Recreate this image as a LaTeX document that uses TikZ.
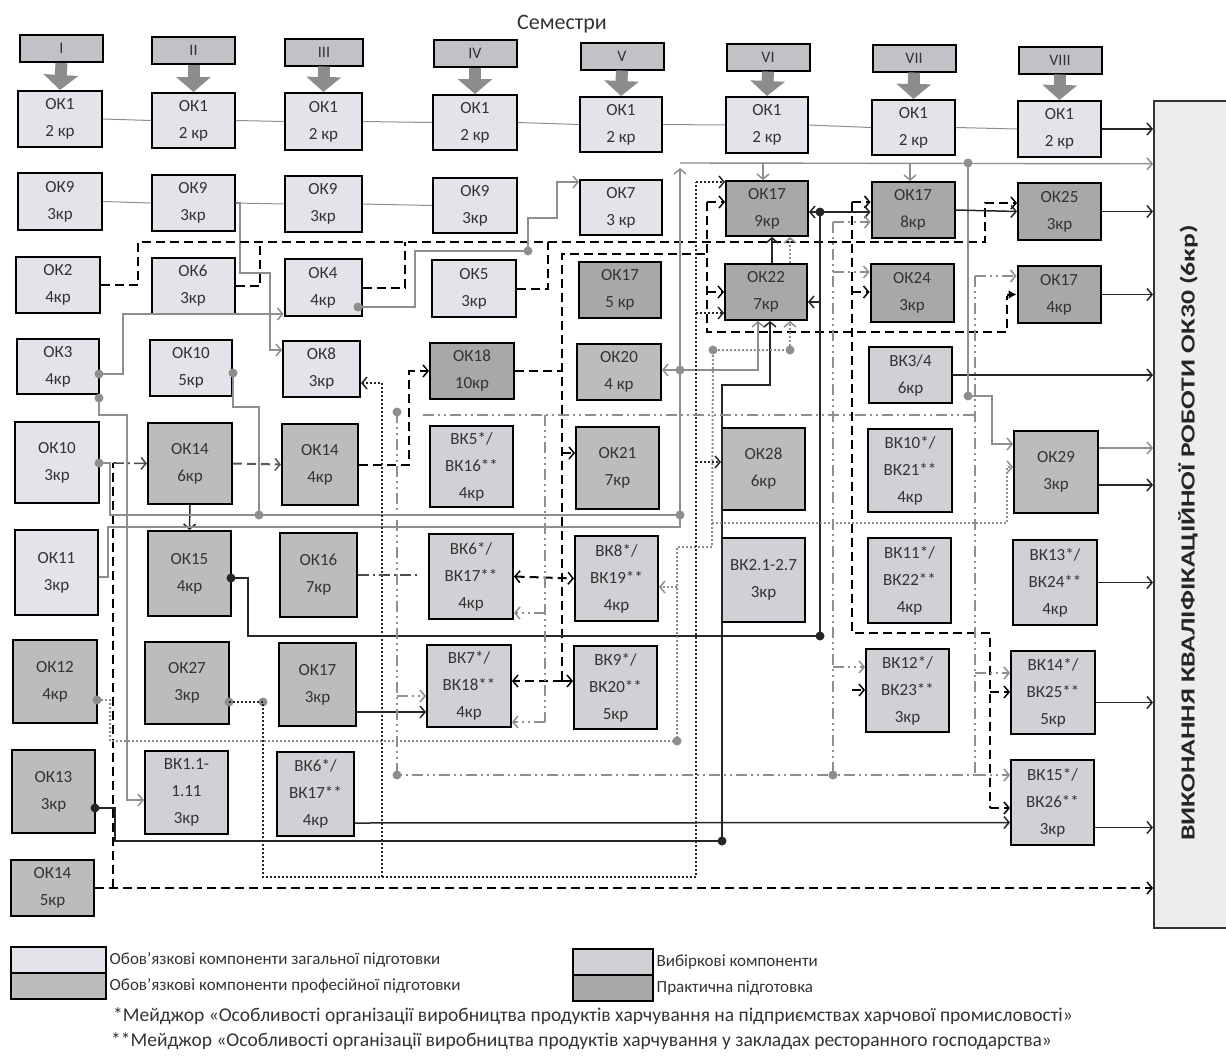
\documentclass[tikz,border=0pt]{standalone}
\usepackage{fontspec}
\setmainfont{Carlito}
\usetikzlibrary{arrows.meta,calc}
\definecolor{genc}{HTML}{E3E3EA}
\definecolor{profc}{HTML}{BCBCBC}
\definecolor{elecc}{HTML}{D0D0D5}
\definecolor{pracc}{HTML}{A8A8A8}
\definecolor{hdrc}{HTML}{C2C2C6}
\definecolor{arrc}{HTML}{8C8C8C}
\definecolor{lgc}{HTML}{8E8E8E}
\definecolor{finc}{HTML}{EDEDEF}
\definecolor{txtc}{HTML}{333333}
\begin{document}
\begin{tikzpicture}[x=1pt,y=-1pt,
  box/.style={draw=black, line width=2pt, align=center, inner sep=0pt, text=txtc, font=\fontsize{17}{27}\selectfont},
  gen/.style={box, fill=genc},
  prof/.style={box, fill=profc},
  elec/.style={box, fill=elecc},
  prac/.style={box, fill=pracc},
  hdr/.style={box, fill=hdrc, minimum width=83pt, minimum height=27pt, font=\fontsize{16}{18}\selectfont},
  wh/.style args={#1x#2}{minimum width=#1pt, minimum height=#2pt},
  gl/.style={draw=lgc, line width=1.4pt},
  bl/.style={draw=black!85, line width=1.5pt},
  dsh/.style={draw=black, line width=2pt, dash pattern=on 9pt off 5pt},
  dtb/.style={draw=black!85, line width=2pt, dash pattern=on 1.8pt off 2.2pt},
  dtg/.style={draw=lgc, line width=2pt, dash pattern=on 1.8pt off 2.2pt},
  ddg/.style={draw=lgc, line width=1.6pt, dash pattern=on 11pt off 4pt on 2pt off 4pt on 2pt off 4pt},
  ddb/.style={draw=black!70, line width=1.6pt, dash pattern=on 11pt off 4pt on 2pt off 4pt},
  ar/.style={-{Straight Barb[length=5pt,width=12pt,line width=1.5pt]}},
  gdot/.style={circle, fill=lgc, inner sep=0pt, minimum size=9pt},
  bdot/.style={circle, fill=black!85, inner sep=0pt, minimum size=9pt},
  legt/.style={anchor=west, inner sep=0pt, text=txtc, font=\fontsize{17}{19}\selectfont},
  foot/.style={anchor=west, inner sep=0pt, text=txtc, font=\fontsize{19.5}{21}\selectfont}
]
\useasboundingbox (0,0) rectangle (1226,1055);

% final box
\node[draw=black!80, line width=1.5pt, fill=finc, minimum width=85pt, minimum height=827pt, anchor=north west, inner sep=0pt] (fin) at (1153,100) {};
\node[rotate=90, text=black!85] (fint) at (1188,533) {\scalebox{1.38}[1]{\bfseries\fontsize{20}{20}\selectfont ВИКОНАННЯ КВАЛІФІКАЦІЙНОЇ РОБОТИ ОК30 (6кр)}};

\node[font=\fontsize{22}{24}\selectfont, text=txtc] (sem) at (562,24) {Семестри};

% headers
\node[hdr] (s1) at (61.5,48.5) {I};
\node[hdr] (s2) at (193.5,50.5) {II};
\node[hdr, minimum width=78pt] (s3) at (324,52) {III};
\node[hdr] (s4) at (475,53.5) {IV};
\node[hdr] (s5) at (622,56) {V};
\node[hdr] (s6) at (768,57) {VI};
\node[hdr] (s7) at (914,58) {VII};
\node[hdr] (s8) at (1060,60) {VIII};

% row 1
\node[gen, wh=84x56] (a1) at (60,119) {ОК1\\2 кр};
\node[gen, wh=83x55] (a2) at (193.5,120.5) {ОК1\\2 кр};
\node[gen, wh=77x57] (a3) at (323.5,121.5) {ОК1\\2 кр};
\node[gen, wh=84x55] (a4) at (475,122.5) {ОК1\\2 кр};
\node[gen, wh=82x55] (a5) at (621,124.5) {ОК1\\2 кр};
\node[gen, wh=82x56] (a6) at (767,125) {ОК1\\2 кр};
\node[gen, wh=83x55] (a7) at (913.5,127.5) {ОК1\\2 кр};
\node[gen, wh=83x56] (a8) at (1059.5,129) {ОК1\\2 кр};
% row 2
\node[gen, wh=84x57] (b1) at (60,201.5) {ОК9\\3кр};
\node[gen, wh=83x56] (b2) at (193,203) {ОК9\\3кр};
\node[gen, wh=77x56] (b3) at (323,204) {ОК9\\3кр};
\node[gen, wh=84x55] (b4) at (475,205.5) {ОК9\\3кр};
\node[gen, wh=82x55] (b5) at (621,207.5) {ОК7\\3 кр};
\node[prac, wh=82x55] (b6) at (767,208.5) {ОК17\\9кр};
\node[prac, wh=83x56] (b7) at (913,210) {ОК17\\8кр};
\node[prac, wh=83x57] (b8) at (1059.5,211.5) {ОК25\\3кр};
% row 3
\node[gen, wh=84x56] (c1) at (58,285) {ОК2\\4кр};
\node[gen, wh=83x56] (c2) at (193,286) {ОК6\\3кр};
\node[gen, wh=77x57] (c3) at (323,287.5) {ОК4\\4кр};
\node[gen, wh=84x57] (c4) at (474,288.5) {ОК5\\3кр};
\node[prac, wh=82x56] (c5) at (620,290) {ОК17\\5 кр};
\node[prac, wh=82x56] (c6) at (766,292) {ОК22\\7кр};
\node[prac, wh=83x58] (c7) at (912,293) {ОК24\\3кр};
\node[prac, wh=83x57] (c8) at (1059,294.5) {ОК17\\4кр};
% row 4
\node[gen, wh=82x55] (d1) at (58,366.5) {ОК3\\4кр};
\node[gen, wh=82x56] (d2) at (191,368) {ОК10\\5кр};
\node[gen, wh=77x56] (d3) at (321.5,369) {ОК8\\3кр};
\node[prac, wh=84x56] (d4) at (472,371) {ОК18\\10кр};
\node[prof, wh=84x56] (d5) at (619,372) {ОК20\\4 кр};
\node[elec, wh=83x56] (d7) at (910.5,375) {ВК3/4\\6кр};
% row 5
\node[gen, wh=84x81] (e1) at (57,462.5) {ОК10\\3кр};
\node[prof, wh=84x81] (e2) at (190,463.5) {ОК14\\6кр};
\node[prof, wh=76x81] (e3) at (320,464.5) {ОК14\\4кр};
\node[elec, wh=83x81] (e4) at (471.5,466.5) {ВК5*/\\ВК16**\\4кр};
\node[prof, wh=83x82] (e5) at (617.5,468) {ОК21\\7кр};
\node[prof, wh=83x82] (e6) at (763.5,469) {ОК28\\6кр};
\node[elec, wh=84x83] (e7) at (910,470.5) {ВК10*/\\ВК21**\\4кр};
\node[prof, wh=84x82] (e8) at (1056,472) {ОК29\\3кр};
% row 6
\node[gen, wh=83x85] (f1) at (56.5,572.5) {ОК11\\3кр};
\node[prof, wh=83x85] (f2) at (189.5,573.5) {ОК15\\4кр};
\node[prof, wh=77x84] (f3) at (318.5,575) {ОК16\\7кр};
\node[elec, wh=84x85] (f4) at (471,576.5) {ВК6*/\\ВК17**\\4кр};
\node[elec, wh=83x85] (f5) at (616.5,578.5) {ВК8*/\\ВК19**\\4кр};
\node[elec, wh=83x84] (f6) at (763.5,580) {ВК2.1-2.7\\3кр};
\node[elec, wh=83x85] (f7) at (909.5,580.5) {ВК11*/\\ВК22**\\4кр};
\node[elec, wh=84x85] (f8) at (1055,582.5) {ВК13*/\\ВК24**\\4кр};
% row 7
\node[prof, wh=84x83] (g1) at (55,681.5) {ОК12\\4кр};
\node[prof, wh=84x82] (g2) at (187,683) {ОК27\\3кр};
\node[prof, wh=77x83] (g3) at (317.5,684.5) {ОК17\\3кр};
\node[elec, wh=84x82] (g4) at (469,686) {ВК7*/\\ВК18**\\4кр};
\node[elec, wh=83x83] (g5) at (615.5,687.5) {ВК9*/\\ВК20**\\5кр};
\node[elec, wh=83x83] (g7) at (907.5,690.5) {ВК12*/\\ВК23**\\3кр};
\node[elec, wh=84x83] (g8) at (1053,692.5) {ВК14*/\\ВК25**\\5кр};
% row 8
\node[prof, wh=83x83] (i1) at (53.5,791.5) {ОК13\\3кр};
\node[elec, wh=83x83] (i2) at (186.5,792.5) {ВК1.1-\\1.11\\3кр};
\node[elec, wh=77x84] (i3) at (315.5,794) {ВК6*/\\ВК17**\\4кр};
\node[elec, wh=83x85] (i8) at (1052.5,802.5) {ВК15*/\\ВК26**\\3кр};
% row 9
\node[prof, wh=83x56] (j1) at (52.5,888) {ОК14\\5кр};

% semester arrows
\foreach \i in {1,...,8}
  \draw[draw=arrc, line width=12pt, -{Triangle[length=15pt,width=34pt]}] (s\i.south) -- (a\i.north);

% OK1 and OK9 chains
\foreach \p/\q in {a1/a2,a2/a3,a3/a4,a4/a5,a5/a6,a6/a7,a7/a8,b1/b2,b2/b3,b3/b4}
  \draw[gl, line width=1pt] (\p.east) -- (\q.west);

% outputs to final box
\coordinate (u1) at ([yshift=24pt]e8.east);
\coordinate (u2) at ([yshift=-13pt]e8.east);
\coordinate (u3) at ([yshift=-10pt]g8.east);
\coordinate (u4) at ([yshift=-25pt]i8.east);
\draw[bl,ar] (a8.east) -- (a8.east -| fin.west);
\draw[bl,ar] (b8.east) -- (b8.east -| fin.west);
\draw[bl,ar] (c8.east) -- (c8.east -| fin.west);
\draw[bl,ar] (d7.east) -- (d7.east -| fin.west);
\draw[gl,ar] (u1) -- (u1 -| fin.west);
\draw[bl,ar] (u2) -- (u2 -| fin.west);
\draw[bl,ar] (f8.east) -- (f8.east -| fin.west);
\draw[bl,ar] (u3) -- (u3 -| fin.west);
\draw[bl,ar] (u4) -- (u4 -| fin.west);
\draw[dsh,ar] (j1.east) -- (j1.east -| fin.west);

% OK9 II -> OK8
\draw[gl,ar] (b2.east) -- (240,203) -- (240,273) -- (270,273) -- (270,350) -- ([yshift=19pt]d3.west);

% dashed bus
\draw[dsh,ar] (c1.east) -- (138,285) -- (138,242) -- (985,242) -- (985,203) -- ([yshift=8.5pt]b8.west);
\draw[dsh] (c2.east) -- (260,286) -- (260,242);
\draw[dsh] (c3.east) -- (405,287.5) -- (405,242);
\draw[dsh] (c4.east) -- (548,288.5) -- (548,242);
\draw[dsh] (707,202) -- (707,332) -- (1007,332) -- (1007,296);
\draw[dsh,ar] (707,202) -- ([yshift=6.5pt]b6.west);
\draw[dsh,ar] (707,292) -- (c6.west);
\draw[black, line width=2pt, -{Latex[length=8pt,width=9pt]}] (1007,294.5) -- (c8.west);

% OK18 dashed
\draw[dsh] (d4.east) -- (562,371);
\draw[dsh] (705,254) -- (562,254) -- (562,681);
\draw[dsh,ar] (562,453) -- ([yshift=15pt]e5.west);
\draw[dsh,ar] (562,681) -- ([yshift=6.5pt]g5.west);
\draw[dsh,ar] (562,681) -- ([yshift=5pt]g4.east);
\draw[dsh,{Straight Barb[length=5pt,width=12pt,line width=1.5pt]}-{Straight Barb[length=5pt,width=12pt,line width=1.5pt]}] (f4.east) -- (f5.west);

% x 852 dashed
\draw[dsh] (852,202) -- (852,633) -- (990,633) -- (990,808);
\draw[dsh,ar] (852,202) -- ([yshift=8pt]b7.west);
\draw[dsh,ar] (852,292) -- ([yshift=1pt]c7.west);
\draw[dsh,ar] (852,690) -- ([yshift=0.5pt]g7.west);
\draw[dsh,ar] (990,692) -- ([yshift=0.5pt]g8.west);
\draw[dsh,ar] (990,808) -- ([yshift=-5.5pt]i8.west);

% OK14 5kr dashed riser
\draw[dsh] (113,888) -- (113,463);
\draw[ddb,ar] (113,463) -- (e2.west);
\draw[dsh, draw=black!65, ar] (e2.east) -- (e3.west);
\draw[dsh,ar] (e3.east) -- (409,464.5) -- (409,371) -- (d4.west);
\draw[bl,ar] (e2.south) -- (f2.north);

% gray buses
\node[gdot] (g10) at (99,463) {};
\draw[gl] (g10.center) -- (110,463) -- (110,515) -- (680,515);
\node[gdot] (d10) at (233,373) {};
\draw[gl] (d10.center) -- (233,407) -- (259,407) -- (259,515);
\node[gdot] (j259) at (259,515) {};
\node[gdot] (j680b) at (680,515) {};
\draw[gl,ar] ([yshift=-4.5pt]f1.east) -- (108,577) -- (108,527) -- (680,527) -- (680,168);
\coordinate (tl) at ([yshift=350.5pt]fin.west);
\draw[gl,ar] (680,163) -- (tl);
\draw[gl,ar] (763,163) -- ([xshift=-4pt]b6.north);
\draw[gl,ar] (910,163) -- ([xshift=-3pt]b7.north);
\node[gdot] (t968) at (968,163) {};
\node[gdot] (t968b) at (968,396) {};
\draw[gl] (t968.center) -- (t968b.center);
\draw[gl,ar] (t968b.center) -- (992,396) -- (992,444) -- ([yshift=28pt]e8.west);
\node[gdot] (j680) at (680,370) {};
\draw[gl,ar] (j680.center) -- ([yshift=2pt]d5.east);
\draw[gl,ar] (j680.center) -- (758,370) -- ([xshift=-8pt]c6.south);

% OK3 lines
\node[gdot] (o3a) at (99,374) {};
\draw[gl,ar] (o3a.center) -- (123,374) -- (123,314) -- ([yshift=-26.5pt]c3.west);
\node[gdot] (o3b) at (99,398) {};
\draw[gl,ar] (o3b.center) -- (99,415) -- (127,415) -- (127,800) -- ([yshift=-7.5pt]i2.west);

% OK4 -> OK7
\node[gdot] (o4) at (358,307) {};
\node[gdot] (j528) at (528,251) {};
\draw[gl] (o4.center) -- (415,307) -- (415,251) -- (j528.center);
\draw[gl,ar] (j528.center) -- (528,218) -- (557,218) -- (557,182) -- ([yshift=25.5pt]b5.west);

% OK15 black line
\node[bdot] (o15) at (231,578) {};
\node[bdot] (k818) at (820,636) {};
\node[bdot] (k212) at (820,212) {};
\draw[bl] (o15.center) -- (248,578) -- (248,636) -- (k818.center) -- (k212.center);
\draw[bl,ar] (k212.center) -- ([yshift=-3.5pt]b6.east);
\draw[bl,ar] (k212.center) -- ([yshift=-2pt]b7.west);
\draw[bl,ar] (820,302) -- ([yshift=-10pt]c6.east);
\draw[bl,ar] ([xshift=6pt]c6.north) -- ([xshift=5pt]b6.south);
\draw[bl,ar] (b7.east) -- (b8.west);

% OK13 line
\node[bdot] (o13) at (95,808) {};
\node[bdot] (k722) at (722,841) {};
\draw[bl] (o13.center) -- (115,808) -- (115,841) -- (k722.center);
\draw[bl,ar] (k722.center) -- (722,385) -- (770,385) -- ([xshift=4pt]c6.south);
\draw[bl,ar] ([yshift=-29pt]i3.east) -- ([yshift=-20pt]i8.west);
\draw[bl,ar] ([yshift=-27.5pt]g3.east) -- ([yshift=-26pt]g4.west);

% dotted gray
\node[gdot] (o12) at (97,700) {};
\node[gdot] (q677) at (677,741) {};
\node[gdot] (q712) at (713,350) {};
\node[gdot] (q790) at (790,350) {};
\draw[dtg] (o12.center) -- (110,700) -- (110,741) -- (q677.center) -- (677,547) -- (712,547) -- (q712.center) -- (q790.center);
\draw[dtg,ar] (q790.center) -- ([xshift=24pt]c6.south);
\draw[dtg,ar] ([xshift=24pt]c6.north) -- ([xshift=23pt]b6.south);
\draw[dtg,ar] (677,587) -- ([yshift=-8.5pt]f5.east);
\draw[dtg,ar] (712,523) -- (1007,523) -- (1007,467) -- ([yshift=5pt]e8.west);

% dotted black
\node[gdot] (o27) at (229,702) {};
\node[gdot] (q263) at (263,702) {};
\draw[dtb] (o27.center) -- (q263.center) -- (263,877) -- (696,877) -- (696,182);
\draw[dtb,ar] (696,182) -- ([yshift=26.5pt]b6.west);
\draw[dtb,ar] (696,313) -- ([yshift=-21pt]c6.west);
\draw[dtb,ar] (696,462) -- ([yshift=7pt]e6.west);
\draw[dtb,ar] (382,877) -- (382,383) -- ([yshift=-14pt]d3.east);

% dash-dot gray
\node[gdot] (r397) at (397,412) {};
\node[gdot] (r397b) at (397,775) {};
\node[gdot] (r833) at (833,775) {};
\draw[ddg] (r397.center) -- (r397b.center) -- (975,775);
\draw[ddg,ar] (397,696) -- ([yshift=-10pt]g4.west);
\draw[ddg] (423,415) -- (975,415);
\draw[ddg] (975,276) -- (975,775);
\draw[ddg,ar] (975,276) -- ([yshift=18.5pt]c8.west);
\draw[ddg,ar] (975,673) -- ([yshift=19.5pt]g8.west);
\draw[ddg,ar] (975,775) -- ([yshift=27.5pt]i8.west);
\draw[ddg] (545,415) -- (545,722);
\draw[ddg,ar] (545,613) -- ([yshift=-36.5pt]f4.east);
\draw[ddg,ar] (545,722) -- ([yshift=-36pt]g4.east);
\draw[ddg] (833,222) -- (r833.center);
\draw[ddg,ar] (833,222) -- ([yshift=-12pt]b7.west);
\draw[ddg,ar] (833,272) -- ([yshift=21pt]c7.west);
\draw[ddg,ar] (833,667) -- ([yshift=23.5pt]g7.west);
\draw[ddb] (f3.east) -- (417,575);

% legend
\node[gen, line width=1.5pt, minimum width=95pt, minimum height=26pt, anchor=north west] (L1) at (10,946) {};
\node[prof, line width=1.5pt, minimum width=95pt, minimum height=26pt, anchor=north west] (L2) at (10,972) {};
\node[elec, line width=1.5pt, minimum width=80pt, minimum height=26pt, anchor=north west] (L3) at (572,948) {};
\node[prac, line width=1.5pt, minimum width=80pt, minimum height=26pt, anchor=north west] (L4) at (572,974) {};
\node[legt] (T1) at ([xshift=3pt]L1.east) {Обов'язкові компоненти загальної підготовки};
\node[legt] (T2) at ([xshift=3pt]L2.east) {Обов'язкові компоненти професійної підготовки};
\node[legt] (T3) at ([xshift=3pt]L3.east) {Вибіркові компоненти};
\node[legt] (T4) at ([xshift=3pt]L4.east) {Практична підготовка};
\node[foot] (F1) at (113,1016) {*Мейджор «Особливості організації виробництва продуктів харчування на підприємствах харчової промисловості»};
\node[foot] (F2) at (111,1041) {**Мейджор «Особливості організації виробництва продуктів харчування у закладах ресторанного господарства»};
\end{tikzpicture}
\end{document}
